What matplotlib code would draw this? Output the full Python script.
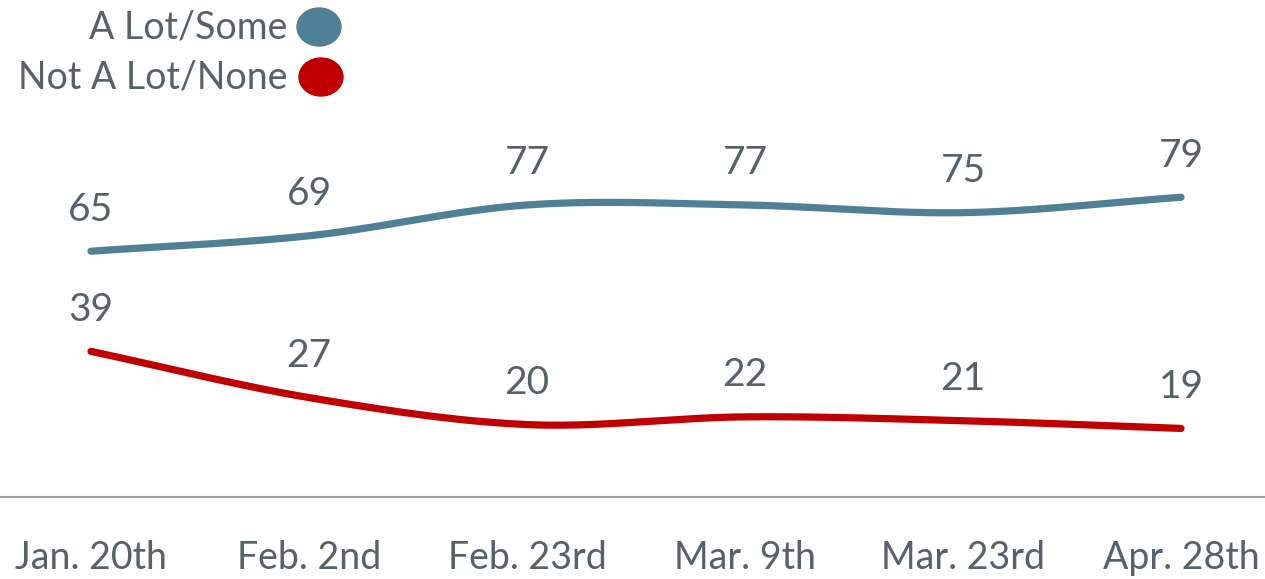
import numpy as np
import matplotlib
matplotlib.use("Agg")
import matplotlib.pyplot as plt
from matplotlib.patches import Ellipse

plt.rcParams['font.family'] = ['Lato', 'DejaVu Sans']

dates = ["Jan. 20th", "Feb. 2nd", "Feb. 23rd", "Mar. 9th", "Mar. 23rd", "Apr. 28th"]
a_lot_some = [65, 69, 77, 77, 75, 79]
not_a_lot_none = [39, 27, 20, 22, 21, 19]

blue = "#4f8096"
red = "#c00000"
text_gray = "#56616c"


def smooth(xs, ys, n=40):
    # catmull-rom style smoothing like excel's smoothed line
    xs = np.asarray(xs, float)
    ys = np.asarray(ys, float)
    px = np.concatenate([[2 * xs[0] - xs[1]], xs, [2 * xs[-1] - xs[-2]]])
    py = np.concatenate([[2 * ys[0] - ys[1]], ys, [2 * ys[-1] - ys[-2]]])
    outx, outy = [], []
    for i in range(1, len(px) - 2):
        t = np.linspace(0, 1, n)
        for arr, out in ((px, outx), (py, outy)):
            p0, p1, p2, p3 = arr[i - 1], arr[i], arr[i + 1], arr[i + 2]
            out.extend(0.5 * (2 * p1 + (-p0 + p2) * t
                              + (2 * p0 - 5 * p1 + 4 * p2 - p3) * t ** 2
                              + (-p0 + 3 * p1 - 3 * p2 + p3) * t ** 3))
    return np.array(outx), np.array(outy)


fig = plt.figure(figsize=(12.65, 5.79), dpi=100)
ax = fig.add_axes([0, 1 - 497 / 579, 1, 497 / 579])

x = np.arange(len(dates))
for vals, col in ((a_lot_some, blue), (not_a_lot_none, red)):
    sx, sy = smooth(x, vals)
    ax.plot(sx, sy, color=col, lw=5.2, solid_capstyle="round")
    for xi, v in zip(x, vals):
        ax.annotate(str(v), (xi, v), xytext=(0, 30), textcoords="offset points",
                    ha="center", va="center", fontsize=28, color=text_gray)

ax.set_xlim(-91 / 218, (1265 - 91) / 218)
ax.set_ylim(1.2, 130.2)
for s in ("top", "left", "right"):
    ax.spines[s].set_visible(False)
ax.spines["bottom"].set_color("#a0a0a0")
ax.spines["bottom"].set_linewidth(1.5)
ax.set_yticks([])
ax.set_xticks(x)
ax.set_xticklabels(dates, fontsize=27, color=text_gray)
ax.tick_params(axis="x", length=0, pad=31)

# legend
fig.text(287 / 1265, 1 - 27 / 579, "A Lot/Some", ha="right", va="center",
         fontsize=27, color=text_gray)
fig.text(287 / 1265, 1 - 77 / 579, "Not A Lot/None", ha="right", va="center",
         fontsize=27, color=text_gray)
fig.patches.append(Ellipse((319 / 1265, 1 - 27 / 579), 44 / 1265, 38 / 579,
                           transform=fig.transFigure, color=blue))
fig.patches.append(Ellipse((321 / 1265, 1 - 77 / 579), 44 / 1265, 38 / 579,
                           transform=fig.transFigure, color=red))

fig.savefig("out.png", dpi=100)
